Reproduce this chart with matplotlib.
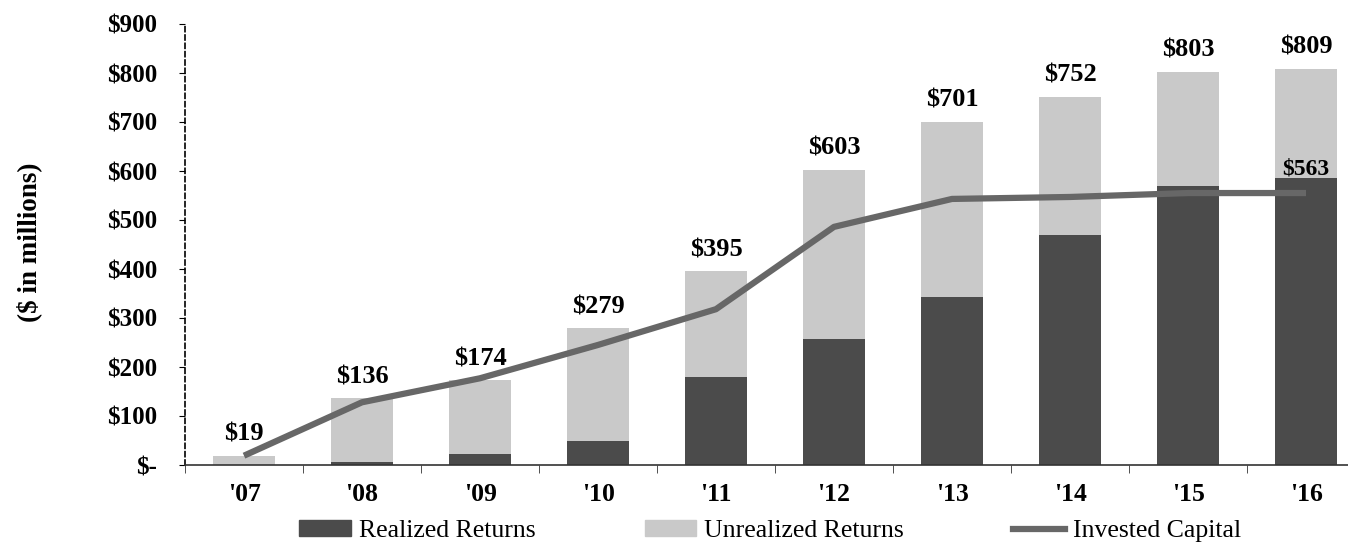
import numpy as np
import matplotlib
matplotlib.use("Agg")
import matplotlib.pyplot as plt
from matplotlib.patches import Patch
from matplotlib.lines import Line2D

years = ["'07", "'08", "'09", "'10", "'11", "'12", "'13", "'14", "'15", "'16"]
total_value = [19, 136, 174, 279, 395, 603, 701, 752, 803, 809]
realized = [0, 6, 22, 49, 180, 257, 343, 469, 569, 586]
invested = [19, 128, 177, 245, 318, 486, 543, 547, 555, 555]
invested_label = "$563"
yticks = [0, 100, 200, 300, 400, 500, 600, 700, 800, 900]
ytick_labels = ["$-", "$100", "$200", "$300", "$400", "$500", "$600", "$700", "$800", "$900"]

unrealized = [t - r for t, r in zip(total_value, realized)]

dark = "#4b4b4b"
light = "#c9c9c9"
line_c = "#676767"
serif = ["Liberation Serif", "DejaVu Serif"]

fig = plt.figure(figsize=(13.48, 5.54), dpi=100)
ax = fig.add_axes([185 / 1348, 89 / 554, (1348 - 185) / 1348, 441 / 554])

x = np.arange(len(years))
w = 0.53
ax.bar(x, realized, w, color=dark, zorder=2)
ax.bar(x, unrealized, w, bottom=realized, color=light, zorder=2)
ax.plot(x, invested, color=line_c, lw=4.5, solid_capstyle="butt", zorder=3)

for i, t in enumerate(total_value):
    ax.annotate("$%d" % t, (x[i], t), xytext=(0, 7), textcoords="offset points",
                ha="center", va="bottom", fontsize=19, fontweight="bold", family=serif)
ax.annotate(invested_label, (x[-1], invested[-1]), xytext=(0, 10), textcoords="offset points",
            ha="center", va="bottom", fontsize=17, fontweight="bold", family=serif)

ax.set_xlim(-0.5, -0.5 + (1348 - 185) / 118)
ax.set_ylim(0, 900)
ax.set_yticks(yticks)
ax.set_yticklabels(ytick_labels, fontsize=18, fontweight="bold", family=serif)
ax.set_xticks(x)
ax.set_xticklabels(years, fontsize=18.5, fontweight="bold", family=serif)
ax.set_xticks(np.arange(len(years)) - 0.5, minor=True)
ax.tick_params(axis="x", which="major", length=0, pad=13)
ax.tick_params(axis="x", which="minor", length=6, direction="out", color="#333333")
ax.tick_params(axis="y", length=4, direction="out", pad=16)

for s in ["top", "right"]:
    ax.spines[s].set_visible(False)
ax.spines["left"].set_linestyle((0, (3, 2)))
ax.spines["left"].set_linewidth(1.2)
ax.spines["bottom"].set_color("#333333")
ax.spines["bottom"].set_linewidth(1.2)

fig.text(29 / 1348, 1 - 242 / 554, "($ in millions)", rotation=90, ha="center", va="center",
         fontsize=19.5, fontweight="bold", family=serif)

handles = [Patch(color=dark), Patch(color=light), Line2D([], [], color=line_c, lw=4.5)]
labels = ["Realized Returns", "Unrealized Returns", "Invested Capital"]
fig.legend(handles, labels, loc="center", bbox_to_anchor=(770 / 1348, 1 - 531 / 554), ncol=3,
           frameon=False, prop={"family": serif, "size": 18.5}, handlelength=2.0,
           handleheight=0.6, handletextpad=0.32, columnspacing=4.25)

fig.savefig("out.png", dpi=100)
